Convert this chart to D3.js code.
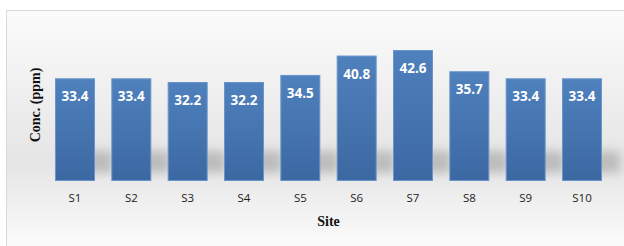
<!DOCTYPE html>
<html><head><meta charset="utf-8">
<script src="https://cdn.jsdelivr.net/npm/d3@7"></script>
<style>body{margin:0;background:#fff;}svg{display:block;}</style>
</head><body>
<script>
const sites = ["S1","S2","S3","S4","S5","S6","S7","S8","S9","S10"];
const conc = [33.4,33.4,32.2,32.2,34.5,40.8,42.6,35.7,33.4,33.4];
const yLabel = "Conc. (ppm)";
const xLabel = "Site";

const W = 624, H = 246;
const svg = d3.select("body").append("svg").attr("width", W).attr("height", H);
const defs = svg.append("defs");

const bg = defs.append("linearGradient").attr("id","bg").attr("x1",0).attr("y1",0).attr("x2",0).attr("y2",1);
bg.append("stop").attr("offset","0%").attr("stop-color","#fbfbfb");
bg.append("stop").attr("offset","62%").attr("stop-color","#e5e5e5");
bg.append("stop").attr("offset","100%").attr("stop-color","#fefefe");

const bar = defs.append("linearGradient").attr("id","bar").attr("x1",0).attr("y1",0).attr("x2",0).attr("y2",1);
bar.append("stop").attr("offset","0%").attr("stop-color","#4f81bd");
bar.append("stop").attr("offset","100%").attr("stop-color","#3c68a2");

const blur = defs.append("filter").attr("id","blur").attr("x","-20%").attr("y","-100%").attr("width","140%").attr("height","300%");
blur.append("feGaussianBlur").attr("stdDeviation","5");

// frame
svg.append("rect").attr("x",6.5).attr("y",10.5).attr("width",W).attr("height",H)
  .attr("fill","url(#bg)").attr("stroke","#d9d9d9").attr("stroke-width",1);

const x = d3.scaleBand().domain(sites).range([55, 602]).paddingInner(0.29).paddingOuter(0);
const y = d3.scaleLinear().domain([0, 50]).range([181, 27.25]);

// shadow band
svg.append("g").attr("filter","url(#blur)").selectAll("rect").data(sites).join("rect")
  .attr("x", d => x(d) + 8).attr("width", x.bandwidth() + 10)
  .attr("y", y(0) - 30).attr("height", 22)
  .attr("fill", "#9a9a9a").attr("opacity", 0.55);

svg.append("g").selectAll("rect").data(conc).join("rect")
  .attr("x", (d,i) => x(sites[i]) + 0.5)
  .attr("y", d => y(d) + 0.5)
  .attr("width", x.bandwidth() - 1)
  .attr("height", d => y(0) - y(d) - 1)
  .attr("fill", "url(#bar)")
  .attr("stroke", "#6a95cc").attr("stroke-width", 1);

svg.append("g").selectAll("text").data(conc).join("text")
  .attr("x", (d,i) => x(sites[i]) + x.bandwidth()/2)
  .attr("y", d => y(d) + 23)
  .attr("text-anchor","middle")
  .attr("font-family","'Open Sans', sans-serif")
  .attr("font-weight","bold").attr("font-size","13.5px")
  .attr("fill","#fff")
  .text(d => d.toFixed(1));

const xAxis = svg.append("g").attr("transform", `translate(0,${y(0)})`)
  .call(d3.axisBottom(x).tickSize(0).tickPadding(13));
xAxis.select(".domain").remove();
xAxis.selectAll("text").attr("font-family","'Open Sans', sans-serif").attr("font-size","11.5px").attr("fill","#222");

svg.append("text").attr("x", (x("S5") + x.bandwidth() + x("S6")) / 2).attr("y", 226)
  .attr("text-anchor","middle").attr("font-family","'Liberation Serif', 'Times New Roman', serif")
  .attr("font-weight","bold").attr("font-size","14px").attr("fill","#111").text(xLabel);

svg.append("text").attr("transform","translate(40,105) rotate(-90)")
  .attr("text-anchor","middle").attr("font-family","'Liberation Serif', 'Times New Roman', serif")
  .attr("font-weight","bold").attr("font-size","14px").attr("fill","#111").text(yLabel);
</script>
</body></html>
